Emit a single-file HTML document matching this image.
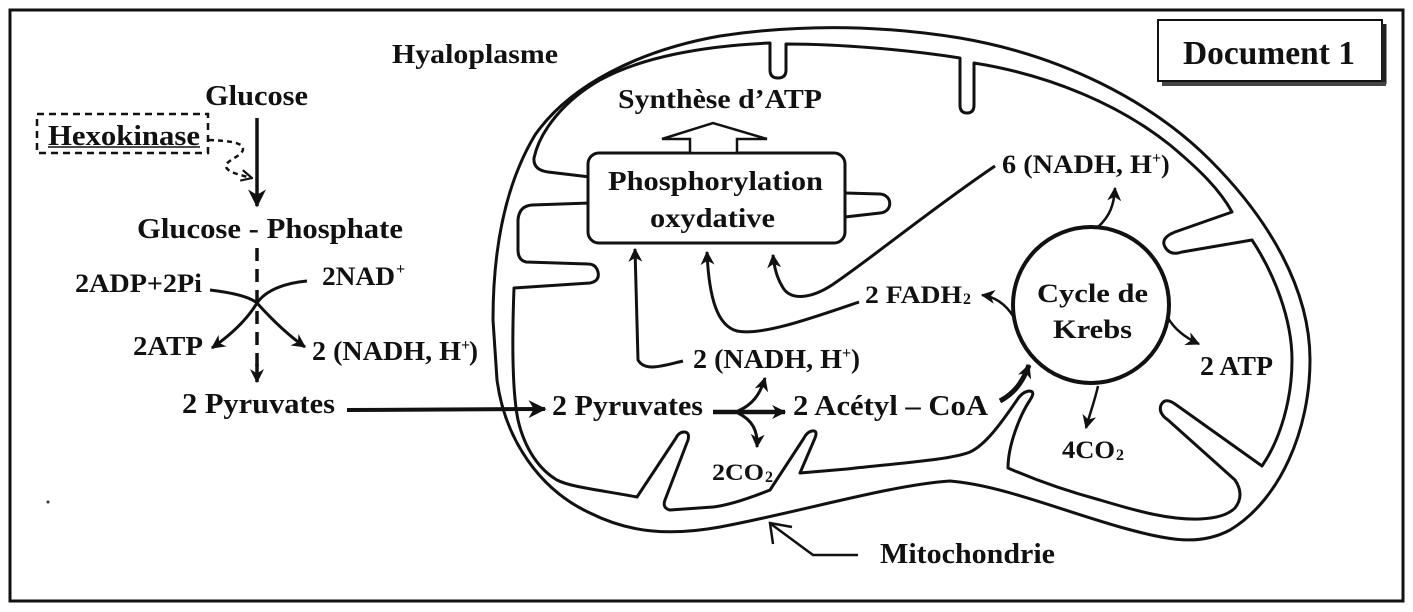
<!DOCTYPE html>
<html>
<head>
<meta charset="utf-8">
<style>
html,body{margin:0;padding:0;background:#fff;}
svg{display:block;}
text{font-family:"Liberation Serif","DejaVu Serif",serif;font-weight:bold;fill:#111;}
</style>
</head>
<body>
<svg width="1413" height="612" viewBox="0 0 1413 612" xmlns="http://www.w3.org/2000/svg">
<defs>
  <marker id="ah" viewBox="0 0 12 12" refX="11" refY="6" markerWidth="14" markerHeight="14" markerUnits="userSpaceOnUse" orient="auto">
    <path d="M0,0 L12,6 L0,12 L3.5,6 z" fill="#111"/>
  </marker>
  <marker id="ahL" viewBox="0 0 12 12" refX="11" refY="6" markerWidth="18" markerHeight="18" markerUnits="userSpaceOnUse" orient="auto">
    <path d="M0,0 L12,6 L0,12 L3.5,6 z" fill="#111"/>
  </marker>
  <marker id="ahO" viewBox="0 0 12 12" refX="11" refY="6" markerWidth="13" markerHeight="13" markerUnits="userSpaceOnUse" orient="auto">
    <path d="M1,1 L11,6 L1,11" fill="none" stroke="#111" stroke-width="2"/>
  </marker>
</defs>

<rect x="0" y="0" width="1413" height="612" fill="#fff"/>
<!-- outer frame -->
<rect x="10" y="10" width="1393" height="591" fill="none" stroke="#111" stroke-width="3"/>

<!-- Document 1 box -->
<rect x="1158" y="20" width="224" height="61" fill="#fff" stroke="#111" stroke-width="2"/>
<line x1="1384" y1="24" x2="1384" y2="84" stroke="#222" stroke-width="5"/>
<line x1="1162" y1="84" x2="1386" y2="84" stroke="#444" stroke-width="4"/>
<text x="1183" y="64" font-size="34" textLength="172" lengthAdjust="spacingAndGlyphs">Document 1</text>

<!-- Hyaloplasme -->
<text x="392" y="63" font-size="27" textLength="166" lengthAdjust="spacingAndGlyphs">Hyaloplasme</text>

<!-- Glycolysis column -->
<text x="205" y="105" font-size="29" textLength="103" lengthAdjust="spacingAndGlyphs">Glucose</text>
<rect x="37" y="114" width="171" height="39" fill="none" stroke="#111" stroke-width="2.5" stroke-dasharray="7 5"/>
<text x="48" y="145" font-size="28" textLength="152" lengthAdjust="spacingAndGlyphs">Hexokinase</text>
<line x1="48" y1="147" x2="200" y2="147" stroke="#111" stroke-width="1.5"/>
<path d="M209,140 C 228,141 243,142 243,149 C 243,156 226,160 226,166 C 226,172 240,175 252,178" fill="none" stroke="#111" stroke-width="2.5" stroke-dasharray="5 4" marker-end="url(#ahO)"/>
<line x1="257" y1="118" x2="257" y2="206" stroke="#111" stroke-width="3.5" marker-end="url(#ahL)"/>

<text x="137" y="238" font-size="29" textLength="266" lengthAdjust="spacingAndGlyphs">Glucose - Phosphate</text>
<line x1="257" y1="248" x2="257" y2="372" stroke="#111" stroke-width="3.5" stroke-dasharray="13 8"/>
<line x1="257" y1="364" x2="257" y2="382" stroke="#111" stroke-width="3.5" marker-end="url(#ah)"/>

<text x="75" y="292" font-size="26" textLength="127" lengthAdjust="spacingAndGlyphs">2ADP+2Pi</text>
<text x="322" y="285" font-size="26" textLength="73" lengthAdjust="spacingAndGlyphs">2NAD</text>
<text x="396" y="274" font-size="16">+</text>
<path d="M210,290 C 235,293 250,297 257,303 C 266,313 285,333 305,347" fill="none" stroke="#111" stroke-width="3" marker-end="url(#ah)"/>
<path d="M307,281 C 285,283 266,290 257,303 C 248,318 232,334 212,348" fill="none" stroke="#111" stroke-width="3" marker-end="url(#ah)"/>
<text x="133" y="355" font-size="27" textLength="70" lengthAdjust="spacingAndGlyphs">2ATP</text>
<text x="312" y="360" font-size="27" textLength="149" lengthAdjust="spacingAndGlyphs">2 (NADH, H</text>
<text x="461" y="350" font-size="16">+</text>
<text x="469" y="360" font-size="27">)</text>

<text x="182" y="413" font-size="29" textLength="153" lengthAdjust="spacingAndGlyphs">2 Pyruvates</text>
<line x1="347" y1="410" x2="545" y2="409" stroke="#111" stroke-width="4" marker-end="url(#ahL)"/>

<circle cx="48" cy="502" r="1.5" fill="#333"/>

<!-- Mitochondrion outer membrane -->
<path d="M493,320 C 493,250 505,185 535,135 C 570,85 640,50 720,36 C 800,24 880,25 960,38 C 1060,55 1150,100 1210,160 C 1270,220 1310,290 1310,360 C 1310,430 1280,500 1230,530 C 1200,546 1170,541 1120,527 C 1060,510 1000,485 950,481 C 890,485 800,512 720,527 C 670,536 630,533 590,513 C 540,490 505,440 497,380 Z" fill="none" stroke="#111" stroke-width="3"/>

<!-- inner membrane -->
<path d="M590,177 L548,172 Q533,170 534,158 C 540,130 565,100 600,80 C 640,58 700,46 770,43 L770,70 Q770,78 778,78 Q786,78 786,70 L786,44 C 840,44 910,50 960,58 L960,105 Q960,113 967,113 Q974,113 974,105 L974,63 C 1050,75 1120,105 1170,145 C 1200,170 1220,190 1232,212 L1175,232 Q1160,238 1165,247 Q1170,256 1182,252 L1252,240 C 1275,275 1292,320 1292,360 C 1292,400 1280,440 1262,466 L1175,404 Q1165,397 1161,405 Q1158,413 1168,420 L1235,480 Q1245,495 1235,508 Q1225,518 1200,519 C 1170,520 1140,512 1100,500 C 1070,492 1040,482 1008,468 C 1008,445 1020,415 1030,400 Q1036,391 1029,391 Q1022,392 1017,400 C 1000,425 985,445 970,452 C 950,460 900,463 847,469 L800,473 L815,438 Q818,430 812,431 Q807,432 804,438 L770,490 C 750,498 730,505 713,507 L670,510 Q662,508 665,500 L688,440 Q690,432 684,432 Q679,432 676,438 L637,497 C 600,490 570,487 557,480 C 540,470 525,450 518,420 C 512,390 512,340 514,288 L590,283 Q600,281 598,272 Q596,264 588,264 L526,262 Q518,260 518,250 L518,220 Q519,206 532,205 L590,203" fill="none" stroke="#111" stroke-width="3" stroke-linejoin="round"/>
<!-- right tab of box -->
<path d="M845,193 L880,194 C 893,195 893,212 880,213 L845,217" fill="none" stroke="#111" stroke-width="3"/>

<!-- Phosphorylation box -->
<rect x="588" y="153" width="257" height="90" rx="11" ry="11" fill="#fff" stroke="#111" stroke-width="3"/>
<text x="608" y="190" font-size="27" textLength="215" lengthAdjust="spacingAndGlyphs">Phosphorylation</text>
<text x="650" y="227" font-size="27" textLength="125" lengthAdjust="spacingAndGlyphs">oxydative</text>

<!-- hollow arrow -->
<polygon points="690,153 690,139 662,139 713,123 767,139 737,139 737,153" fill="#fff" stroke="#111" stroke-width="2.5" stroke-linejoin="miter"/>
<text x="618" y="108" font-size="27" textLength="204" lengthAdjust="spacingAndGlyphs">Synthèse d’ATP</text>

<!-- arrows into box -->
<path d="M683,361 C 662,366 645,372 638,360 L635,249" fill="none" stroke="#111" stroke-width="3" marker-end="url(#ah)"/>
<path d="M859,302 C 812,318 762,336 737,331 C 718,326 709,300 707,252" fill="none" stroke="#111" stroke-width="3" marker-end="url(#ah)"/>
<path d="M995,166 C 930,210 872,258 832,285 C 812,298 790,302 782,286 C 776,276 774,266 773,255" fill="none" stroke="#111" stroke-width="3" marker-end="url(#ah)"/>

<!-- matrix texts -->
<text x="693" y="368" font-size="27" textLength="149" lengthAdjust="spacingAndGlyphs">2 (NADH, H</text>
<text x="842" y="358" font-size="16">+</text>
<text x="851" y="368" font-size="27">)</text>

<text x="552" y="415" font-size="28" textLength="151" lengthAdjust="spacingAndGlyphs">2 Pyruvates</text>
<line x1="713" y1="412" x2="785" y2="412" stroke="#111" stroke-width="4.5" marker-end="url(#ah)"/>
<path d="M738,411 C 752,405 760,395 765,378" fill="none" stroke="#111" stroke-width="3" marker-end="url(#ah)"/>
<path d="M738,413 C 752,420 758,430 757,447" fill="none" stroke="#111" stroke-width="3" marker-end="url(#ah)"/>
<text x="793" y="415" font-size="28" textLength="195" lengthAdjust="spacingAndGlyphs">2 Acétyl – CoA</text>
<text x="712" y="480" font-size="23" textLength="52" lengthAdjust="spacingAndGlyphs">2CO</text>
<text x="765" y="482" font-size="16">2</text>

<!-- Krebs -->
<circle cx="1091" cy="305" r="78" fill="#fff" stroke="#111" stroke-width="4"/>
<text x="1037" y="302" font-size="26" textLength="111" lengthAdjust="spacingAndGlyphs">Cycle de</text>
<text x="1053" y="338" font-size="26" textLength="79" lengthAdjust="spacingAndGlyphs">Krebs</text>

<path d="M1000,401 C 1013,394 1022,384 1029,365" fill="none" stroke="#111" stroke-width="5" marker-end="url(#ah)"/>
<path d="M1013,316 C 1006,305 996,297 982,295" fill="none" stroke="#111" stroke-width="2.5" marker-end="url(#ah)"/>
<path d="M1098,227 C 1110,216 1114,205 1115,188" fill="none" stroke="#111" stroke-width="2.5" marker-end="url(#ah)"/>
<path d="M1168,318 C 1175,330 1186,338 1199,344" fill="none" stroke="#111" stroke-width="2.5" marker-end="url(#ah)"/>
<path d="M1098,386 C 1095,400 1090,413 1086,428" fill="none" stroke="#111" stroke-width="2.5" marker-end="url(#ah)"/>

<text x="1002" y="173" font-size="26" textLength="150" lengthAdjust="spacingAndGlyphs">6 (NADH, H</text>
<text x="1152" y="163" font-size="16">+</text>
<text x="1161" y="173" font-size="26">)</text>
<text x="865" y="303" font-size="25" textLength="97" lengthAdjust="spacingAndGlyphs">2 FADH</text>
<text x="963" y="304" font-size="16">2</text>
<text x="1200" y="375" font-size="27" textLength="73" lengthAdjust="spacingAndGlyphs">2 ATP</text>
<text x="1062" y="458" font-size="25" textLength="53" lengthAdjust="spacingAndGlyphs">4CO</text>
<text x="1116" y="460" font-size="16">2</text>

<!-- Mitochondrie label -->
<polyline points="858,555 813,555 771,524" fill="none" stroke="#111" stroke-width="2.5"/>
<polyline points="773,544 770,523 792,527" fill="none" stroke="#111" stroke-width="2.5"/>
<text x="880" y="563" font-size="28" textLength="175" lengthAdjust="spacingAndGlyphs">Mitochondrie</text>
</svg>
</body>
</html>
